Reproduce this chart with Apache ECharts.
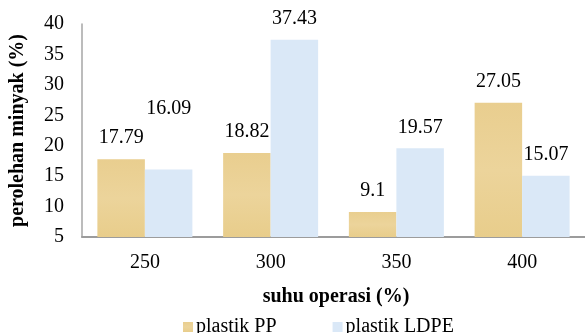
<!DOCTYPE html>
<html>
<head>
<meta charset="utf-8">
<script src="https://cdn.jsdelivr.net/npm/echarts@6/dist/echarts.min.js"></script>
<style>
  html, body { margin: 0; padding: 0; background: #fff; }
  #chart { width: 585px; height: 333px; }
</style>
</head>
<body>
<div id="chart"></div>
<script>
// Operating temperatures (category axis)
const categories = ['250', '300', '350', '400'];
// Oil yield (%) per plastic type
const ppValues = [17.79, 18.82, 9.1, 27.05];
const ldpeValues = [16.09, 37.43, 19.57, 15.07];
const seriesNames = ['plastik PP', 'plastik LDPE'];

const serif = '"Liberation Serif", "Times New Roman", serif';
const fs = 20;
const ppColor = {
  type: 'linear', x: 0, y: 0, x2: 0, y2: 1,
  colorStops: [
    { offset: 0, color: '#E9CE8F' },
    { offset: 0.5, color: '#ECD49B' },
    { offset: 1, color: '#E8CD8B' }
  ]
};
const ldpeColor = '#DAE8F7';

const labelBase = {
  show: true,
  position: 'top',
  distance: 11,
  color: '#000',
  fontFamily: serif,
  fontSize: fs
};

// The 16.09 label sits well above its bar
const ldpeData = ldpeValues.map((v, i) =>
  i === 0 ? { value: v, label: { offset: [0, -40] } } : v
);

const chart = echarts.init(document.getElementById('chart'));
chart.setOption({
  animation: false,
  textStyle: { fontFamily: serif },
  grid: { left: 81, top: 24, width: 514, height: 213 },
  legend: {
    data: seriesNames,
    left: 178,
    top: 312,
    itemWidth: 10,
    itemHeight: 10,
    itemGap: 56,
    icon: 'rect',
    textStyle: { fontFamily: serif, fontSize: fs, color: '#000', padding: [0, 0, 0, -2] }
  },
  xAxis: {
    type: 'category',
    data: categories,
    name: 'suhu operasi (%)',
    nameLocation: 'middle',
    nameGap: 50,
    nameTextStyle: { fontFamily: serif, fontSize: fs, fontWeight: 'bold', color: '#000', padding: [0, 0, 0, 5] },
    axisLine: { lineStyle: { color: '#9c9c9c', width: 2 } },
    axisTick: { show: false },
    axisLabel: { fontFamily: serif, fontSize: fs, color: '#000', margin: 16 }
  },
  yAxis: {
    type: 'value',
    min: 5,
    max: 40,
    interval: 5,
    name: 'perolehan minyak (%)',
    nameLocation: 'middle',
    nameGap: 54,
    nameTextStyle: { fontFamily: serif, fontSize: fs, fontWeight: 'bold', color: '#000' },
    axisLine: { show: true, lineStyle: { color: '#a6a6a6', width: 1.5 } },
    axisTick: { show: false },
    splitLine: { show: false },
    axisLabel: { fontFamily: serif, fontSize: fs, color: '#000', margin: 18 }
  },
  series: [
    {
      name: seriesNames[0],
      type: 'bar',
      data: ppValues,
      barWidth: 47.5,
      barGap: '0%',
      itemStyle: { color: ppColor },
      label: labelBase
    },
    {
      name: seriesNames[1],
      type: 'bar',
      data: ldpeData,
      barWidth: 47.5,
      barGap: '0%',
      itemStyle: { color: ldpeColor },
      label: labelBase
    }
  ]
});
</script>
</body>
</html>
